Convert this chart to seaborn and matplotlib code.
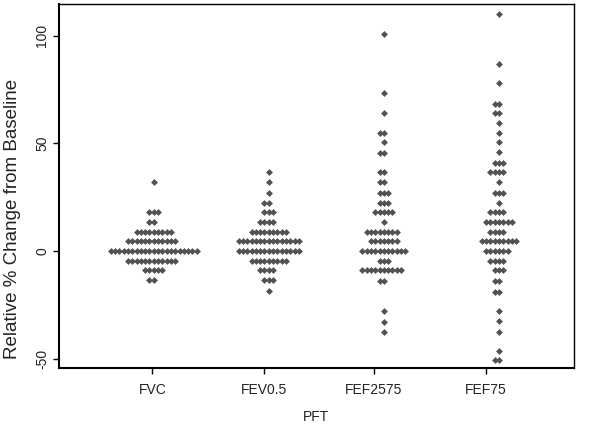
import numpy as np
import pandas as pd
import matplotlib
matplotlib.use("Agg")
import matplotlib.pyplot as plt
import seaborn as sns

# PFT measures; each group is a dot plot: row levels and number of dots per row
tests = ["FVC", "FEV0.5", "FEF2575", "FEF75"]

fvc_levels = [32, 18, 13.5, 9, 4.5, 0, -4.5, -9, -13.5]
fvc_counts = [1, 3, 2, 9, 12, 21, 12, 5, 2]

fev_levels = [36.5, 32, 27, 22.5, 18, 13.5, 9, 4.5, 0, -4.5, -9, -13.5, -18.5]
fev_counts = [1, 1, 1, 2, 3, 4, 9, 15, 15, 9, 4, 3, 1]

fef2575_levels = [101, 73.5, 64, 55, 50.5, 45.5, 36.5, 32, 27, 22.5, 18, 13.5,
                  9, 4.5, 0, -4.5, -9, -14, -28, -33, -37.5]
fef2575_counts = [1, 1, 1, 2, 1, 2, 2, 2, 3, 3, 5, 1,
                  8, 7, 11, 3, 10, 2, 1, 1, 1]

fef75_levels = [110, 87, 78, 68.5, 64, 59.5, 55, 50.5, 46, 41, 36.5, 32, 27,
                22.5, 18, 13.5, 9, 4.5, 0, -4.5, -9, -14, -19, -28, -32.5,
                -37.5, -46.5, -50.5]
fef75_counts = [1, 1, 1, 2, 2, 1, 1, 1, 1, 3, 4, 1, 3,
                1, 4, 7, 4, 9, 6, 4, 3, 2, 2, 1, 1,
                1, 1, 2]

y_ticks = [-50, 0, 50, 100]


def main():
    # build long table: one row per subject/test
    groups = [(fvc_levels, fvc_counts), (fev_levels, fev_counts),
              (fef2575_levels, fef2575_counts), (fef75_levels, fef75_counts)]
    frames = []
    for name, (levels, counts) in zip(tests, groups):
        vals = np.repeat(levels, counts)
        frames.append(pd.DataFrame({"PFT": name, "change": vals}))
    df = pd.concat(frames, ignore_index=True)

    sns.set_theme(style="white")
    plt.rcParams["font.family"] = ["Liberation Sans", "DejaVu Sans"]

    fig = plt.figure(figsize=(6.01, 4.28), dpi=100)
    ax = fig.add_axes([59 / 601, 60 / 428, 515 / 601, 364 / 428])

    # swarm spacing comes from this marker size
    sns.swarmplot(data=df, x="PFT", y="change", order=tests, marker="D",
                  size=2.95, linewidth=0, color="#525252", ax=ax)

    ax.set_xlim(-0.823, 3.652)
    ax.set_ylim(-54.3, 114.7)

    # Stata-style: tick labels sit a little left of the dot columns
    ax.set_xticks([-0.012, 0.956, 1.911, 2.884])
    ax.set_xticklabels(tests)
    ax.set_yticks(y_ticks)
    ax.set_yticklabels([str(t) for t in y_ticks], rotation=90, va="center")

    ax.tick_params(axis="both", bottom=True, left=True, direction="out",
                   length=4, width=1, color="black", labelsize=10,
                   labelcolor="#222222")
    ax.tick_params(axis="x", pad=7)
    ax.tick_params(axis="y", pad=3)

    for side in ["left", "bottom", "top", "right"]:
        ax.spines[side].set_color("black")
        ax.spines[side].set_linewidth(1.0)
    ax.spines["left"].set_linewidth(1.5)
    ax.spines["bottom"].set_linewidth(1.5)

    ax.set_xlabel("PFT", fontsize=10, labelpad=9, color="#222222")
    ax.set_ylabel("Relative % Change from Baseline", fontsize=13.5,
                  color="#222222")
    ax.yaxis.set_label_coords(-0.073, 0.41)

    # lay out the swarm once, then keep those positions and draw
    # the diamonds a bit bigger so they overlap like the original
    fig.canvas.draw()
    for coll in ax.collections:
        if "draw" in coll.__dict__:
            del coll.draw
        coll.set_sizes([3.5 ** 2])

    fig.savefig("out.png", dpi=100)


if __name__ == "__main__":
    main()
